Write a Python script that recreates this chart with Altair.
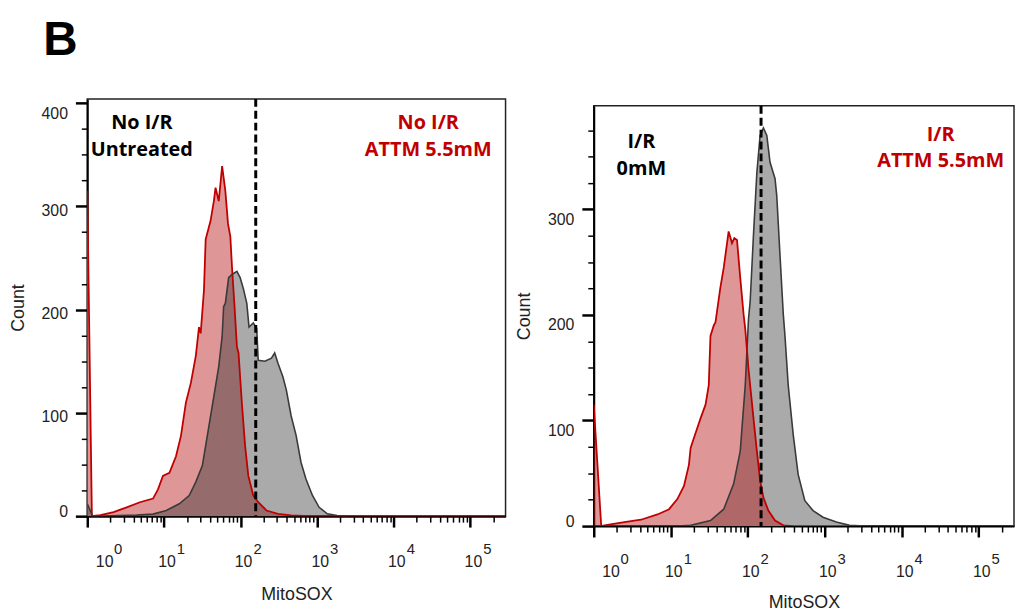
import altair as alt
import pandas as pd
import numpy as np

# ---------------- data ----------------
# x values are log10(MitoSOX intensity); y values are event counts

# Left panel: No I/R
left_red_logx = [0.0, 0.06, 0.171, 0.343, 0.514, 0.686, 0.858, 0.923, 0.987, 1.072, 1.158,
                 1.223, 1.287, 1.352, 1.416, 1.458, 1.480, 1.523, 1.545, 1.609, 1.652, 1.674,
                 1.716, 1.760, 1.802, 1.837, 1.867, 1.889, 1.922, 1.953, 1.974, 2.017, 2.060,
                 2.102, 2.167, 2.231, 2.339, 2.489, 2.661, 2.9, 5.46]
left_red_count = [315, 0, 1, 4, 8.6, 13.5, 17, 26, 39, 42, 58,
                  78, 110, 129, 155, 183, 177, 219, 268, 286, 305, 318,
                  305, 339, 315, 283, 271, 241, 203, 164, 158, 110, 68,
                  39, 20, 13.5, 5.5, 2.3, 0.7, 0, 0]

left_gray_logx = [0.0, 0.07, 0.643, 0.858, 1.030, 1.201, 1.330, 1.416, 1.502, 1.587, 1.652,
                  1.716, 1.760, 1.780, 1.802, 1.845, 1.889, 1.953, 1.995, 2.038, 2.082, 2.111,
                  2.167, 2.211, 2.231, 2.317, 2.404, 2.446, 2.489, 2.553, 2.597, 2.661, 2.726,
                  2.790, 2.854, 2.939, 3.026, 3.133, 3.261, 3.4]
left_gray_count = [12, 0, 1, 2, 5.5, 12, 20, 33, 49, 87, 116,
                   145, 174, 203, 206, 231, 234, 237, 231, 220, 206, 183,
                   187, 182, 151, 150, 153, 158, 148, 135, 122.5, 97, 78,
                   52, 36, 20, 8.6, 2.3, 0.7, 0]

# Right panel: I/R
right_red_logx = [0.0, 0.097, 0.139, 0.397, 0.613, 0.828, 0.978, 1.086, 1.172, 1.236, 1.258,
                  1.301, 1.387, 1.452, 1.494, 1.516, 1.559, 1.581, 1.645, 1.688, 1.752, 1.796,
                  1.826, 1.861, 1.903, 1.946, 1.968, 2.010, 2.075, 2.119, 2.161, 2.204, 2.268,
                  2.355, 2.462, 2.6, 5.46]
right_red_count = [115, 0, 0.7, 3.8, 6, 11, 16, 25.6, 38, 58, 74,
                   83.5, 102, 115, 133.5, 180, 190, 193, 226, 244.5, 279, 268,
                   272.7, 271, 235, 200.7, 186.7, 149, 102, 71, 43, 27, 14.7,
                   5.3, 0.7, 0, 0]

right_gray_logx = [0.1, 1.10, 1.258, 1.516, 1.688, 1.817, 1.903, 1.968, 2.010, 2.032, 2.075,
                   2.119, 2.161, 2.204, 2.248, 2.290, 2.355, 2.377, 2.419, 2.462, 2.484, 2.526,
                   2.591, 2.655, 2.742, 2.849, 2.978, 3.151, 3.323, 3.516]
right_gray_count = [0, 0, 0.7, 5.3, 16, 40, 71, 133.5, 196, 213, 276,
                    335, 370, 377, 370, 344.6, 329, 313, 257, 200.7, 180, 133.5,
                    86.6, 49, 24, 14.7, 8.4, 3.8, 0.7, 0]

# gate (dashed line) positions, MitoSOX intensity
left_gate = 158
right_gate = 149

# annotation texts
left_black_text = ["No I/R", "Untreated"]
left_red_text = ["No I/R", "ATTM 5.5mM"]
right_black_text = ["I/R", "0mM"]
right_red_text = ["I/R", "ATTM 5.5mM"]

panel_label = "B"
x_title = "MitoSOX"
y_title = "Count"
x_decades = [1, 10, 100, 1000, 10000, 100000]
x_exponents = ["0", "1", "2", "3", "4", "5"]

# ---------------- styling ----------------
XMIN, XMAX = 1, 288000
RED = "#c00000"
LABEL_FONT = "Liberation Sans"
ANNOT_FONT = "Open Sans"

x_tick_values = [k * d for d in x_decades for k in range(1, 10) if k * d <= XMAX]
is_major_x = "abs(log(datum.value)/LN10 - round(log(datum.value)/LN10)) < 0.001"
x_label_expr = f"({is_major_x}) ? '10' : ''"


def df(logx, counts):
    return pd.DataFrame({"x": np.power(10.0, np.array(logx)), "count": counts})


def x_axis(title_pad):
    return alt.Axis(
        values=x_tick_values, title=x_title, labelExpr=x_label_expr, grid=False,
        tickSize={"condition": {"test": is_major_x, "value": 11}, "value": 6},
        tickWidth={"condition": {"test": is_major_x, "value": 2.5}, "value": 1.5},
        labelOffset={"condition": {"test": "datum.value < 1.5", "value": 17}, "value": 2.6},
        tickColor="black", domainColor="black", domainWidth=2,
        labelPadding=27, labelFont=LABEL_FONT, labelFontSize=16, labelColor="#222",
        labelOverlap=False, labelFlush=False,
        titleFont=LABEL_FONT, titleFontSize=18, titleFontWeight="normal", titleColor="#222",
        titlePadding=title_pad,
    )


def y_axis(ymax, offsets):
    vals = list(range(0, int(ymax) + 1, 25))
    return alt.Axis(
        values=vals, title=y_title, grid=False,
        labelExpr="datum.value % 100 == 0 ? datum.label : ''",
        tickSize={"condition": {"test": "datum.value % 100 == 0", "value": 12}, "value": 6},
        tickWidth={"condition": {"test": "datum.value % 100 == 0", "value": 2.5}, "value": 1.5},
        labelOffset=offsets,
        tickColor="black", domainColor="black", domainWidth=2,
        labelPadding=8, labelFont=LABEL_FONT, labelFontSize=16, labelColor="#222",
        labelOverlap=False, labelFlush=False,
        titleFont=LABEL_FONT, titleFontSize=18, titleFontWeight="normal", titleColor="#222",
        titlePadding=14,
    )


def text_line(txt, px, py, color):
    return alt.Chart(pd.DataFrame({"t": [txt]})).mark_text(
        font=ANNOT_FONT, fontWeight="bold", fontSize=20, align="center",
        baseline="alphabetic", color=color
    ).encode(x=alt.value(px), y=alt.value(py), text="t:N")


def panel(red, gray, gate, ymax, yoffsets, width, height, red_on_top, texts, title_pad):
    xs = alt.Scale(type="log", domain=[XMIN, XMAX], nice=False)
    ys = alt.Scale(domain=[0, ymax], nice=False)
    X = alt.X("x:Q", scale=xs, axis=x_axis(title_pad))
    Y = alt.Y("count:Q", scale=ys, axis=y_axis(ymax, yoffsets))
    if red_on_top:
        gray_area = alt.Chart(df(*gray)).mark_area(color="#aaaaaa", clip=True).encode(x=X, y=Y)
        red_area = alt.Chart(df(*red)).mark_area(color="rgb(182,22,22)", opacity=0.45, clip=True).encode(x=X, y=Y)
        areas = [gray_area, red_area]
    else:
        red_area = alt.Chart(df(*red)).mark_area(color="#de9696", clip=True).encode(x=X, y=Y)
        gray_area = alt.Chart(df(*gray)).mark_area(color="rgb(42,42,42)", opacity=0.4, clip=True).encode(x=X, y=Y)
        areas = [red_area, gray_area]
    red_line = alt.Chart(df(*red)).mark_line(color=RED, strokeWidth=1.8, clip=True).encode(x=X, y=Y)
    gray_line = alt.Chart(df(*gray)).mark_line(color="#3a3a3a", strokeWidth=1.6, clip=True).encode(x=X, y=Y)
    lines = [gray_line, red_line] if red_on_top else [red_line, gray_line]
    rule = alt.Chart(pd.DataFrame({"x": [gate]})).mark_rule(
        color="black", strokeWidth=3, strokeDash=[8, 4]).encode(x=X)
    # exponent part of the "10^n" tick labels
    exps = pd.DataFrame({"x": x_decades, "e": x_exponents})
    exp_base = alt.Chart(exps).encode(x=X, y=alt.value(height + 38), text="e:N")
    exp_first = exp_base.transform_filter("datum.x < 1.5").mark_text(
        font=LABEL_FONT, fontSize=15, align="left", baseline="alphabetic", color="#222", dx=27)
    exp_rest = exp_base.transform_filter("datum.x > 1.5").mark_text(
        font=LABEL_FONT, fontSize=15, align="left", baseline="alphabetic", color="#222", dx=13)
    layers = areas + lines + [rule, exp_first, exp_rest] + [text_line(*t) for t in texts]
    return alt.layer(*layers).properties(width=width, height=height)


left = panel(
    (left_red_logx, left_red_count), (left_gray_logx, left_gray_count), left_gate, 404,
    {"condition": [{"test": "datum.value == 0", "value": -5}, {"test": "datum.value == 400", "value": 11}], "value": 4},
    422, 421, False,
    [(left_black_text[0], 55, 30, "black"), (left_black_text[1], 55, 58, "black"),
     (left_red_text[0], 344, 30, RED), (left_red_text[1], 344, 58, RED)],
    16,
)

right = panel(
    (right_red_logx, right_red_count), (right_gray_logx, right_gray_count), right_gate, 398,
    {"condition": {"test": "datum.value == 0", "value": -5}, "value": 10},
    424, 424, True,
    [(right_black_text[0], 48, 43, "black"), (right_black_text[1], 48, 70, "black"),
     (right_red_text[0], 350, 35, RED), (right_red_text[1], 350, 62, RED)],
    14,
)

spacer = alt.Chart(pd.DataFrame({"a": [0]})).mark_point(size=1, opacity=0).encode(
    x=alt.value(1), y=alt.value(1)
).properties(width=424, height=3, view=alt.ViewBackground(stroke="transparent"))

right_col = alt.vconcat(spacer, right, spacing=0)

chart = alt.hconcat(left, right_col, spacing=8).properties(
    title=alt.TitleParams(panel_label, anchor="start", fontSize=48, font=LABEL_FONT,
                          fontWeight="bold", color="black", dx=35, offset=32),
    padding={"left": 0, "top": 6, "right": 0, "bottom": 0},
    background="white",
).configure_view(stroke="#222", strokeWidth=1.5)

chart.save("out.html", embed_options={"renderer": "svg", "actions": False})
